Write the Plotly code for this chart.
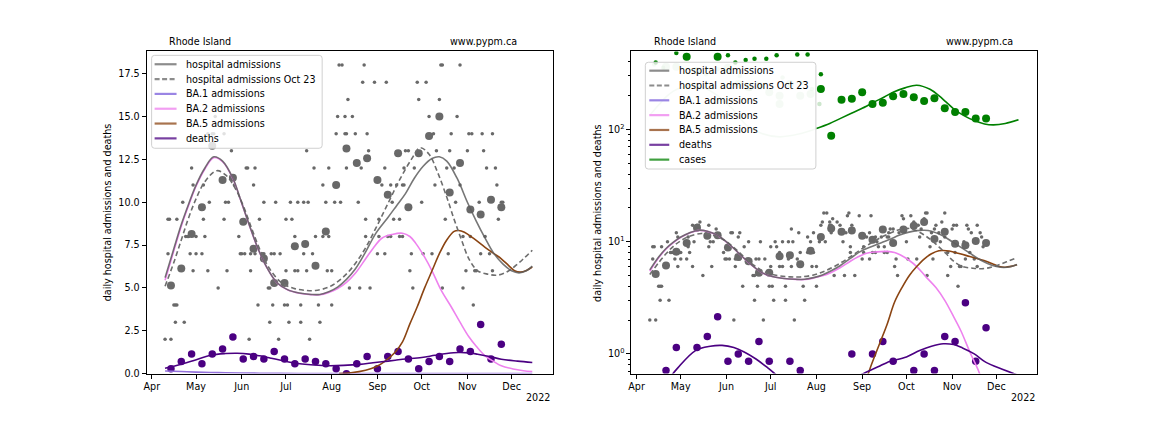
import plotly.graph_objects as go
import pandas as pd

# ---------------- data (days counted from 2022-04-01) ----------------
BASE = "2022-04-01"

month_ticks = ["2022-04-01", "2022-05-01", "2022-06-01", "2022-07-01", "2022-08-01",
               "2022-09-01", "2022-10-01", "2022-11-01", "2022-12-01"]
month_labels = ["Apr", "May", "Jun", "Jul", "Aug", "Sep", "Oct", "Nov", "Dec"]

# daily hospital admissions (small dots)
daily_day = [9, 13, 66, 86, 107,
             16, 22, 80, 93, 101, 114,
             15, 16, 17, 72, 82, 90, 92, 101, 113, 122, 218,
             45, 79, 80, 134, 141, 148, 177, 197, 211,
             28, 38, 51, 67, 91, 97, 99, 105, 119, 122, 175, 213, 219, 220, 231,
             11, 26, 30, 34, 60, 61, 63, 67, 70, 75, 76, 81, 83, 87, 103, 109, 153, 158, 176, 184, 190, 201, 223, 229,
             23, 24, 25, 30, 36, 59, 97, 111, 116, 120, 145, 154, 160, 162, 168, 170, 211, 216, 226,
             11, 12, 17, 35, 49, 73, 91, 95, 145, 154, 164, 168, 199, 235,
             21, 39, 50, 52, 76, 84, 94, 99, 103, 106, 118, 124, 128, 140, 163, 183, 206, 222, 237, 238,
             28, 35, 56, 69, 116, 156, 162, 166, 170, 171, 192, 209, 234,
             27, 64, 65, 70, 110, 120, 132, 142, 158, 171, 178, 200, 205, 227, 233,
             54, 105, 147, 172, 174, 193, 202, 214, 225,
             38, 41, 42, 49, 125, 131, 132, 138, 146, 191, 203, 215, 217, 224, 231,
             43, 126, 131, 136, 188, 207,
             133, 181, 195,
             143, 151, 159, 180, 186,
             127, 129, 144, 196, 197, 209]
daily_val = [2, 2, 2, 2, 2,
             3, 3, 3, 3, 3, 3,
             4, 4, 4, 4, 4, 4, 4, 4, 4, 4, 4,
             5, 5, 5, 5, 5, 5, 5, 5, 5,
             6, 6, 6, 6, 6, 6, 6, 6, 6, 6, 6, 6, 6, 6, 6,
             7, 7, 7, 7, 7, 7, 7, 7, 7, 7, 7, 7, 7, 7, 7, 7, 7, 7, 7, 7, 7, 7, 7, 7,
             8, 8, 8, 8, 8, 8, 8, 8, 8, 8, 8, 8, 8, 8, 8, 8, 8, 8, 8,
             9, 9, 9, 9, 9, 9, 9, 9, 9, 9, 9, 9, 9, 9,
             10, 10, 10, 10, 10, 10, 10, 10, 10, 10, 10, 10, 10, 10, 10, 10, 10, 10, 10, 10,
             11, 11, 11, 11, 11, 11, 11, 11, 11, 11, 11, 11, 11,
             12, 12, 12, 12, 12, 12, 12, 12, 12, 12, 12, 12, 12, 12, 12,
             13, 13, 13, 13, 13, 13, 13, 13, 13,
             14, 14, 14, 14, 14, 14, 14, 14, 14, 14, 14, 14, 14, 14, 14,
             15, 15, 15, 15, 15, 15,
             16, 16, 16,
             17, 17, 17, 17, 17,
             18, 18, 18, 18, 18, 18]

# weekly averages (large dots)
weekly_day = [13, 20, 27, 34, 41, 48, 55, 62, 69, 76, 83, 90, 97, 104, 111, 118, 125,
              132, 139, 146, 153, 160, 167, 174, 181, 188, 195, 202, 209, 216, 223, 230, 237]
weekly_hosp = [5.14, 6.14, 8.14, 9.71, 13.3, 11.29, 11.43, 8.86, 7.29, 6.71, 5.29, 5.29, 7.43,
               7.57, 6.29, 8.29, 11.0, 13.14, 12.29, 12.57, 11.29, 10.43, 12.86, 9.71, 12.86,
               13.86, 15.0, 10.57, 12.29, 9.57, 9.29, 10.14, 9.71]
weekly_deaths = [0.29, 0.71, 1.14, 0.57, 1.14, 1.43, 2.14, 0.86, 1.0, 0.86, 1.29, 0.86, 0.57,
                 0.86, 0.71, 0.57, 0.29, 0.0, 0.57, 1.0, 0.29, 1.0, 1.29, 0.86, 0.29, 0.71,
                 1.0, 0.71, 1.43, 1.29, 2.86, 0.86, 1.71]

# model: total hospital admissions
total_day = [9, 15, 20, 25, 30, 36, 42, 48, 55, 60, 66, 72, 78, 85, 92, 100, 108, 114, 120, 126,
             132, 138, 145, 152, 160, 166, 172, 178, 184, 190, 195, 200, 207, 214, 220, 226,
             232, 238, 244, 249, 254, 258]
total_val = [5.6, 7.3, 8.7, 9.9, 11.0, 12.0, 12.65, 12.4, 11.4, 10.2, 8.7, 7.3, 6.2, 5.3, 4.9,
             4.7, 4.62, 4.62, 4.78, 5.05, 5.5, 6.1, 7.1, 8.2, 9.1, 9.8, 10.5, 11.4, 12.1, 12.55,
             12.65, 12.4, 11.4, 10.0, 8.9, 7.9, 7.0, 6.4, 6.0, 5.88, 6.0, 6.27]

# model fitted Oct 23 (dashed)
oct_day = [9, 15, 20, 25, 30, 36, 44, 50, 56, 62, 68, 74, 80, 88, 96, 104, 111, 120, 128, 136,
           144, 152, 160, 168, 176, 182, 188, 194, 200, 205, 210, 215, 221, 228, 234, 240, 246,
           252, 258]
oct_val = [5.1, 6.5, 7.8, 9.1, 10.2, 11.2, 11.84, 11.6, 10.9, 9.8, 8.4, 7.1, 6.1, 5.3, 4.98,
           4.86, 4.85, 5.05, 5.5, 6.2, 7.2, 8.5, 9.9, 11.3, 12.5, 13.18, 12.8, 11.7, 10.3, 9.0,
           7.8, 6.7, 6.0, 5.8, 5.74, 5.9, 6.25, 6.7, 7.2]

# variant components
ba1_day = [9, 20, 30, 45, 60, 80, 100, 130, 160, 200, 258]
ba1_val = [0.15, 0.12, 0.09, 0.06, 0.04, 0.02, 0.01, 0.005, 0.002, 0.001, 0.0005]

ba2_day = [9, 15, 20, 25, 30, 36, 42, 48, 55, 60, 66, 72, 78, 85, 92, 100, 108, 114, 120, 126,
           132, 138, 145, 150, 156, 163, 170, 175, 179, 185, 190, 196, 203, 209, 215, 220, 226,
           232, 237, 245, 252, 258]
ba2_val = [5.45, 7.18, 8.6, 9.82, 10.93, 11.94, 12.6, 12.36, 11.37, 10.18, 8.69, 7.29, 6.19,
           5.29, 4.89, 4.69, 4.61, 4.6, 4.74, 4.96, 5.32, 5.85, 6.7, 7.3, 7.9, 8.12, 8.19, 8.0,
           7.6, 6.8, 6.0, 4.9, 3.9, 3.0, 2.15, 1.6, 1.04, 0.7, 0.46, 0.27, 0.17, 0.12]

ba5_day = [127, 135, 145, 152, 158, 165, 170, 175, 180, 185, 190, 195, 200, 205, 208, 212, 218,
           226, 232, 237, 242, 246, 250, 254, 258]
ba5_val = [0.0, 0.05, 0.2, 0.4, 0.72, 1.25, 1.85, 2.9, 3.9, 5.0, 6.0, 7.0, 7.8, 8.3, 8.35, 8.25,
           7.9, 7.37, 7.0, 6.7, 6.3, 6.0, 5.92, 6.02, 6.22]

deaths_day = [9, 20, 28, 40, 50, 58, 66, 73, 81, 89, 96, 102, 110, 120, 130, 141, 150, 156, 165,
              170, 183, 192, 200, 208, 215, 221, 229, 237, 248, 258]
deaths_val = [0.31, 0.55, 0.75, 1.07, 1.17, 1.19, 1.14, 1.04, 0.9, 0.75, 0.63, 0.56, 0.5, 0.46,
              0.48, 0.54, 0.63, 0.69, 0.78, 0.84, 0.94, 1.07, 1.17, 1.23, 1.21, 1.13, 1.0, 0.84,
              0.73, 0.65]

# cases (right panel only)
cases_early_day = [9, 15, 20, 25, 30, 37, 45, 55, 64, 75, 85, 97, 110, 122]
cases_early_val = [134, 165, 195, 220, 236, 246, 238, 200, 158, 108, 92, 86, 91, 102]
cases_late_day = [122, 131, 138, 145, 152, 161, 168, 174, 182, 190, 199, 205, 210, 215, 222,
                  229, 236, 242, 250, 259]
cases_late_val = [102, 113, 125, 138, 152, 175, 195, 215, 235, 248, 228, 200, 175, 153, 133,
                  120, 112, 110, 113, 122]

cases_wk_dark_day = [34, 55, 125, 132, 139, 146, 153, 160, 167, 174, 181, 188, 195, 202, 209,
                     216, 223, 230, 237]
cases_wk_dark_val = [446, 446, 229, 88, 184, 188, 215, 169, 173, 198, 207, 194, 179, 190, 155,
                     143, 143, 125, 125]
cases_day_dark_day = [13, 27, 62, 67, 74, 80, 88, 95, 109, 116, 125]
cases_day_dark_val = [395, 480, 460, 395, 417, 428, 428, 460, 465, 465, 311]
cases_wk_light_day = [20, 27, 41, 62, 69, 76, 83, 90, 97, 97, 104, 111, 118]
cases_wk_light_val = [362, 362, 333, 355, 254, 238, 246, 215, 200, 169, 254, 200, 207]
cases_day_light_day = [12, 18, 47, 55, 70, 77, 85, 99, 112, 119, 124]
cases_day_light_val = [380, 355, 310, 344, 300, 229, 246, 290, 262, 229, 169]

# legend entries: (label, colour, dash)
legend_left = [("hospital admissions", "#8c8c8c", "solid"),
               ("hospital admissions Oct 23", "#8c8c8c", "dash"),
               ("BA.1 admissions", "#9a85e4", "solid"),
               ("BA.2 admissions", "#f29ef2", "solid"),
               ("BA.5 admissions", "#a8734e", "solid"),
               ("deaths", "#7840a1", "solid")]
legend_right = legend_left + [("cases", "#40a040", "solid")]

# ---------------- helpers ----------------
base = pd.Timestamp(BASE)


def dates(days):
    return [base + pd.Timedelta(days=d) for d in days]


W, H = 1152, 432
FONT = "DejaVu Sans"
FS = 9.6
GRAY = "#696969"
fig = go.Figure()


def add_panel(xa, ya, log):
    kw = dict(xaxis=xa, yaxis=ya, showlegend=False, hoverinfo="skip")
    fig.add_trace(go.Scatter(x=dates(daily_day), y=daily_val, mode="markers",
                             marker=dict(size=3.5, color=GRAY), **kw))
    fig.add_trace(go.Scatter(x=dates(weekly_day), y=weekly_hosp, mode="markers",
                             marker=dict(size=8, color=GRAY), **kw))
    fig.add_trace(go.Scatter(x=dates(weekly_day), y=weekly_deaths, mode="markers",
                             marker=dict(size=7.5, color="indigo"), **kw))
    if log:
        fig.add_trace(go.Scatter(x=dates(cases_day_light_day), y=cases_day_light_val, mode="markers",
                                 marker=dict(size=4.5, color="rgba(0,128,0,0.2)"), **kw))
        fig.add_trace(go.Scatter(x=dates(cases_wk_light_day), y=cases_wk_light_val, mode="markers",
                                 marker=dict(size=8, color="rgba(0,128,0,0.2)"), **kw))
        fig.add_trace(go.Scatter(x=dates(cases_day_dark_day), y=cases_day_dark_val, mode="markers",
                                 marker=dict(size=4.5, color="green"), **kw))
        fig.add_trace(go.Scatter(x=dates(cases_wk_dark_day), y=cases_wk_dark_val, mode="markers",
                                 marker=dict(size=8, color="green"), **kw))
        fig.add_trace(go.Scatter(x=dates(cases_early_day), y=cases_early_val, mode="lines",
                                 line=dict(color="rgba(0,128,0,0.2)", width=1.6, shape="spline"), **kw))
        fig.add_trace(go.Scatter(x=dates(cases_late_day), y=cases_late_val, mode="lines",
                                 line=dict(color="green", width=1.6, shape="spline"), **kw))
    fig.add_trace(go.Scatter(x=dates(ba1_day), y=ba1_val, mode="lines",
                             line=dict(color="mediumpurple", width=1.6, shape="spline"), **kw))
    fig.add_trace(go.Scatter(x=dates(ba2_day), y=ba2_val, mode="lines",
                             line=dict(color="violet", width=1.6, shape="spline"), **kw))
    fig.add_trace(go.Scatter(x=dates(ba5_day), y=ba5_val, mode="lines",
                             line=dict(color="saddlebrown", width=1.6, shape="spline"), **kw))
    fig.add_trace(go.Scatter(x=dates(deaths_day), y=deaths_val, mode="lines",
                             line=dict(color="indigo", width=1.6, shape="spline"), **kw))
    fig.add_trace(go.Scatter(x=dates(oct_day), y=oct_val, mode="lines",
                             line=dict(color="#6e6e6e", width=1.6, dash="5px,3px", shape="spline"), **kw))
    fig.add_trace(go.Scatter(x=dates(total_day), y=total_val, mode="lines", opacity=0.85,
                             line=dict(color="#5f5f5f", width=1.6, shape="spline"), **kw))


add_panel("x", "y", False)
add_panel("x2", "y2", True)

shapes = []
annotations = []


def px_x(p):
    return p / W


def px_y(p):
    return 1 - p / H


def draw_legend(items, x0, y0, x1, y1, first_y, step, line_x0, line_x1, text_x):
    r = 3
    path = (f"M {px_x(x0 + r)},{px_y(y0)} L {px_x(x1 - r)},{px_y(y0)} "
            f"Q {px_x(x1)},{px_y(y0)} {px_x(x1)},{px_y(y0 + r)} "
            f"L {px_x(x1)},{px_y(y1 - r)} Q {px_x(x1)},{px_y(y1)} {px_x(x1 - r)},{px_y(y1)} "
            f"L {px_x(x0 + r)},{px_y(y1)} Q {px_x(x0)},{px_y(y1)} {px_x(x0)},{px_y(y1 - r)} "
            f"L {px_x(x0)},{px_y(y0 + r)} Q {px_x(x0)},{px_y(y0)} {px_x(x0 + r)},{px_y(y0)} Z")
    shapes.append(dict(type="path", xref="paper", yref="paper", path=path, layer="above",
                       fillcolor="rgba(255,255,255,0.8)", line=dict(color="#d0d0d0", width=1)))
    for i, (label, col, dash) in enumerate(items):
        yy = first_y + i * step
        shapes.append(dict(type="line", xref="paper", yref="paper", layer="above",
                           x0=px_x(line_x0), x1=px_x(line_x1), y0=px_y(yy), y1=px_y(yy),
                           line=dict(color=col, width=2.2,
                                     dash="5px,2.5px" if dash == "dash" else "solid")))
        annotations.append(dict(x=px_x(text_x), y=px_y(yy), text=label, xanchor="left"))


draw_legend(legend_left, 149, 56, 320, 150, 65, 15, 152, 174, 181)
draw_legend(legend_right, 644, 63, 815, 171, 71.5, 15, 648, 668, 676)

annotations += [
    dict(x=px_x(164), y=px_y(42), text="Rhode Island", xanchor="left"),
    dict(x=px_x(517), y=px_y(42), text="www.pypm.ca", xanchor="right"),
    dict(x=px_x(651), y=px_y(42), text="Rhode Island", xanchor="left"),
    dict(x=px_x(1015), y=px_y(42), text="www.pypm.ca", xanchor="right"),
    dict(x=px_x(550), y=px_y(402), text="2022", xanchor="right"),
    dict(x=px_x(1037), y=px_y(402), text="2022", xanchor="right"),
    dict(x=px_x(105), y=px_y(215), text="daily hospital admissions and deaths", textangle=-90,
         xanchor="center"),
    dict(x=px_x(596), y=px_y(215), text="daily hospital admissions and deaths", textangle=-90,
         xanchor="center"),
]

xcommon = dict(type="date", range=["2022-03-28 12:00", "2022-12-28 18:00"],
               tickvals=month_ticks, ticktext=month_labels, showgrid=False,
               showline=True, linecolor="black", linewidth=1, mirror=True,
               ticks="outside", ticklen=4, tickcolor="black", zeroline=False,
               tickfont=dict(size=FS, color="black", family=FONT))
ycommon = dict(showgrid=False, showline=True, linecolor="black", linewidth=1, mirror=True,
               ticks="outside", ticklen=4, tickcolor="black", zeroline=False,
               tickfont=dict(size=FS, color="black", family=FONT))

fig.update_layout(
    width=W, height=H, margin=dict(l=0, r=0, t=0, b=0),
    paper_bgcolor="white", plot_bgcolor="white", showlegend=False,
    font=dict(family=FONT, size=FS, color="black"),
    xaxis=dict(domain=[144 / W, 551 / W], anchor="y", **xcommon),
    yaxis=dict(domain=[54 / H, 380 / H], anchor="x", range=[0, 18.8],
               tickvals=[0, 2.5, 5, 7.5, 10, 12.5, 15, 17.5], tickformat=".1f", **ycommon),
    xaxis2=dict(domain=[630 / W, 1037 / W], anchor="y2", **xcommon),
    yaxis2=dict(domain=[54 / H, 380 / H], anchor="x2", type="log", range=[-0.176, 2.696],
                tickvals=[1, 10, 100], ticktext=["10<sup>0</sup>", "10<sup>1</sup>", "10<sup>2</sup>"],
                minor=dict(ticks="outside", ticklen=2, tickcolor="black", showgrid=False,
                           tickvals=[0.7, 0.8, 0.9, 2, 3, 4, 5, 6, 7, 8, 9, 20, 30, 40, 50, 60, 70,
                                     80, 90, 200, 300, 400]),
                **ycommon),
    shapes=shapes,
)

for a in annotations:
    fig.add_annotation(xref="paper", yref="paper", showarrow=False, yanchor="middle",
                       font=dict(size=FS, family=FONT, color="black"), **a)

fig.write_html("out.html")
